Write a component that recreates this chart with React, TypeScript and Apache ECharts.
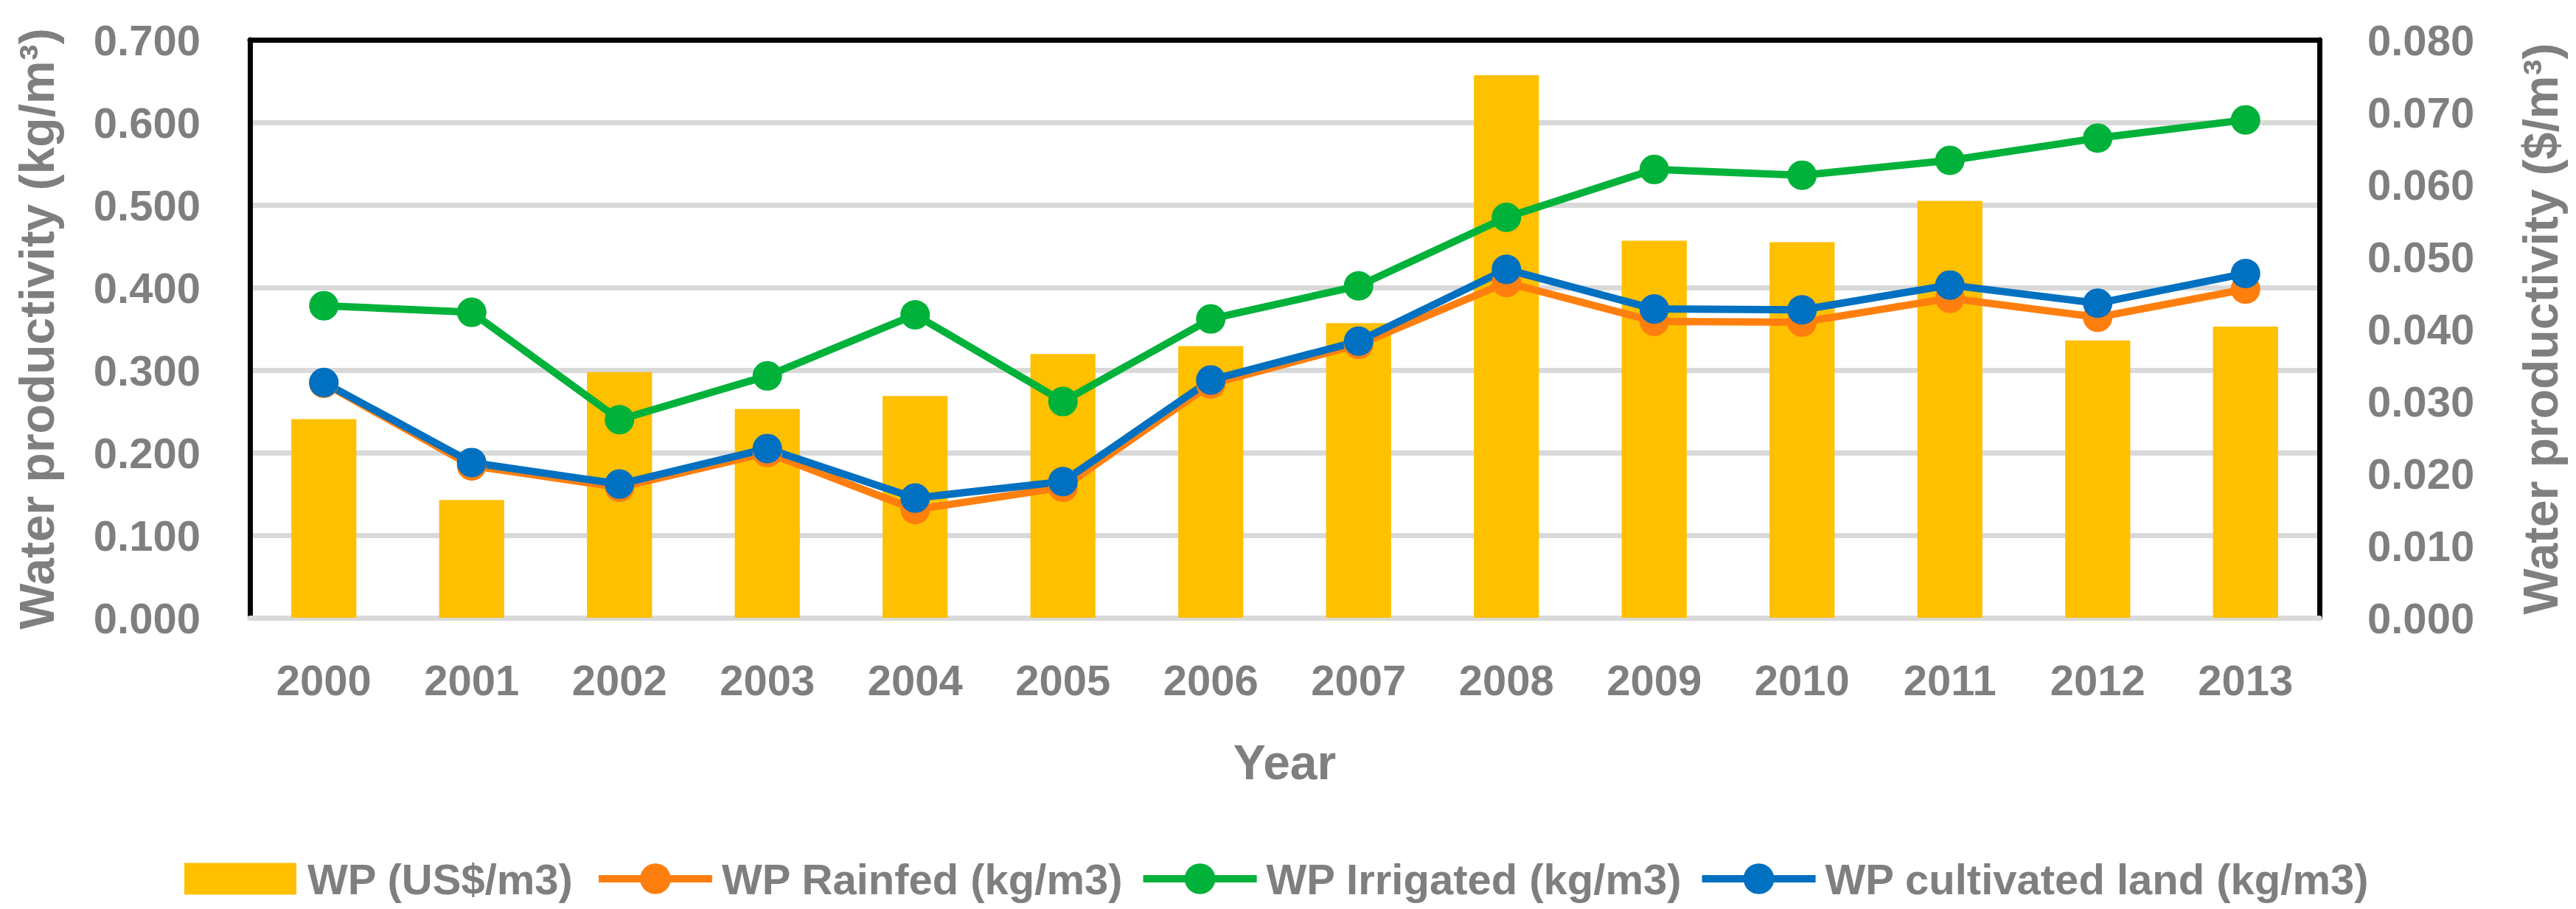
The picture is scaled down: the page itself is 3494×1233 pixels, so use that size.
import React, { useEffect, useRef } from "react";
import * as echarts from "echarts";

const years = ["2000", "2001", "2002", "2003", "2004", "2005", "2006", "2007", "2008", "2009", "2010", "2011", "2012", "2013"];
const wpUsd = [0.0275, 0.0163, 0.0340, 0.0289, 0.0307, 0.0365, 0.0376, 0.0408, 0.0751, 0.0522, 0.0520, 0.0577, 0.0384, 0.0403];
const wpRainfed = [0.284, 0.184, 0.158, 0.200, 0.131, 0.158, 0.283, 0.331, 0.406, 0.359, 0.358, 0.387, 0.364, 0.398];
const wpIrrigated = [0.378, 0.370, 0.240, 0.293, 0.367, 0.262, 0.362, 0.402, 0.485, 0.543, 0.536, 0.554, 0.581, 0.603];
const wpCultivated = [0.285, 0.188, 0.162, 0.205, 0.145, 0.165, 0.288, 0.335, 0.422, 0.374, 0.373, 0.403, 0.381, 0.417];

const names = ["WP (US$/m3)", "WP Rainfed (kg/m3)", "WP Irrigated (kg/m3)", "WP cultivated land (kg/m3)"];
const colors = ["#FFC000", "#FF7F0E", "#00B23A", "#0070C0"];

const FONT = "Liberation Sans";
const GRAY = "#7f7f7f";

export default function App() {
  const ref = useRef<HTMLDivElement>(null);
  useEffect(() => {
    if (!ref.current) return;
    const chart = echarts.init(ref.current, undefined, { renderer: "svg" });
    const textBase = { fontFamily: FONT, color: GRAY, fontWeight: "bold" as const };
    const lineSeries = (i: number, data: number[]) => ({
      name: names[i],
      type: "line",
      yAxisIndex: 0,
      data,
      symbol: "circle",
      symbolSize: 40,
      lineStyle: { color: colors[i], width: 10 },
      itemStyle: { color: colors[i] },
    });
    chart.setOption({
      animation: false,
      backgroundColor: "#ffffff",
      grid: { left: 339, right: 348, top: 54, bottom: 395, containLabel: false },
      legend: [
        {
          data: [{ name: names[0], icon: "rect" }],
          left: 245,
          top: 1157,
          itemWidth: 152,
          itemHeight: 43,
          itemGap: 26,
          textStyle: { ...textBase, fontSize: 58, lineHeight: 60, padding: [0, 0, 0, 10] },
        },
        {
          data: [names[1], names[2], names[3]],
          left: 802,
          top: 1157,
          itemWidth: 154,
          itemHeight: 52,
          itemGap: 22,
          lineStyle: { width: 10 },
          textStyle: { ...textBase, fontSize: 58, lineHeight: 60, padding: [0, 0, 0, 8] },
        },
      ],
      xAxis: [
        {
          type: "category",
          data: years,
          position: "bottom",
          axisLine: { show: true, onZero: false, lineStyle: { color: "#d9d9d9", width: 7 } },
          axisTick: { show: false },
          axisLabel: { ...textBase, fontSize: 58, margin: 55 },
          name: "Year",
          nameLocation: "middle",
          nameGap: 163,
          nameTextStyle: { ...textBase, fontSize: 66 },
        },
        {
          type: "category",
          data: years,
          position: "top",
          axisLine: { show: true, onZero: false, lineStyle: { color: "#000000", width: 7 } },
          axisTick: { show: false },
          axisLabel: { show: false },
        },
      ],
      yAxis: [
        {
          type: "value",
          min: 0,
          max: 0.7,
          interval: 0.1,
          position: "left",
          axisLine: { show: true, onZero: false, lineStyle: { color: "#000000", width: 7 } },
          axisTick: { show: false },
          splitLine: { show: true, lineStyle: { color: "#d9d9d9", width: 7 } },
          axisLabel: { ...textBase, fontSize: 58, margin: 67, formatter: (v: number) => v.toFixed(3) },
          name: "Water productivity (kg/m³)",
          nameLocation: "middle",
          nameGap: 256,
          nameTextStyle: { ...textBase, fontSize: 66 },
        },
        {
          type: "value",
          min: 0,
          max: 0.08,
          interval: 0.01,
          position: "right",
          axisLine: { show: true, onZero: false, lineStyle: { color: "#000000", width: 7 } },
          axisTick: { show: false },
          splitLine: { show: false },
          axisLabel: { ...textBase, fontSize: 58, margin: 65, formatter: (v: number) => v.toFixed(3) },
          name: "Water productivity ($/m³)",
          nameLocation: "middle",
          nameGap: 267,
          nameTextStyle: { ...textBase, fontSize: 66 },
        },
      ],
      series: [
        {
          name: names[0],
          type: "bar",
          yAxisIndex: 1,
          data: wpUsd,
          barWidth: "44%",
          itemStyle: { color: colors[0] },
        },
        lineSeries(1, wpRainfed),
        lineSeries(2, wpIrrigated),
        lineSeries(3, wpCultivated),
      ],
    });
    return () => chart.dispose();
  }, []);
  return (
    <div
      ref={ref}
      style={{ position: "absolute", left: 0, top: 0, width: 3494, height: 1233, background: "#fff" }}
    />
  );
}
